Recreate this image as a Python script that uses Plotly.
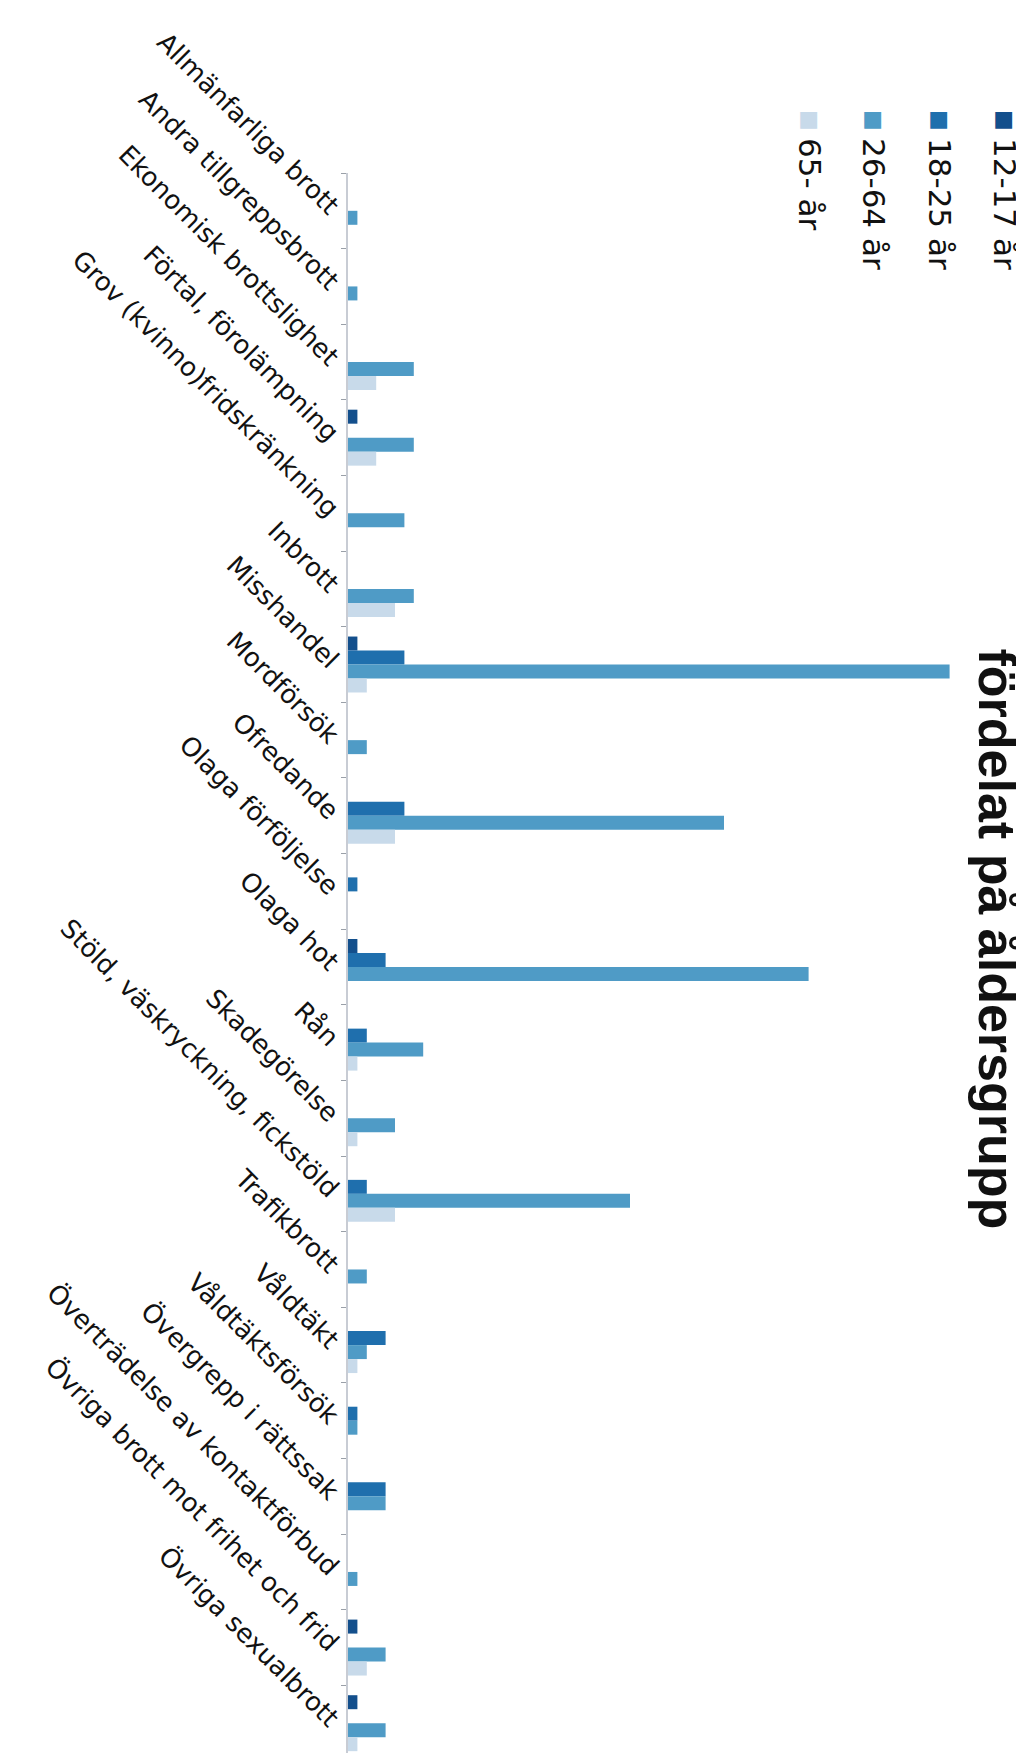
import plotly.graph_objects as go

categories = [
    "Allmänfarliga brott", "Andra tillgreppsbrott", "Ekonomisk brottslighet",
    "Förtal, förolämpning", "Grov (kvinno)fridskränkning", "Inbrott",
    "Misshandel", "Mordförsök", "Ofredande", "Olaga förföljelse", "Olaga hot",
    "Rån", "Skadegörelse", "Stöld, väskryckning, fickstöld", "Trafikbrott",
    "Våldtäkt", "Våldtäktsförsök", "Övergrepp i rättssak",
    "Överträdelse av kontaktförbud", "Övriga brott mot frihet och frid",
    "Övriga sexualbrott",
]
series_names = ["12-17 år", "18-25 år", "26-64 år", "65- år"]
age_12_17 = [0, 0, 0, 1, 0, 0, 1, 0, 0, 0, 1, 0, 0, 0, 0, 0, 0, 0, 0, 1, 1]
age_18_25 = [0, 0, 0, 0, 0, 0, 6, 0, 6, 1, 4, 2, 0, 2, 0, 4, 1, 4, 0, 0, 0]
age_26_64 = [1, 1, 7, 7, 6, 7, 64, 2, 40, 0, 49, 8, 5, 30, 2, 2, 1, 4, 1, 4, 4]
age_65 = [0, 0, 3, 3, 0, 5, 2, 0, 5, 0, 0, 1, 1, 5, 0, 1, 0, 0, 0, 2, 1]
title_text = "fördelat på åldersgrupp"

colors = ["#134f8c", "#1f6fad", "#4f9bc6", "#c8daea"]
series_values = [age_12_17, age_18_25, age_26_64, age_65]

W, H = 1024, 1753
ML, MR, MT, MB = 340, 26, 165, 0
PW, PH = W - ML - MR, H - MT - MB

def px(x):
    return (x - ML) / PW

def py(y):
    return 1 - (y - MT) / PH

fig = go.Figure()
for name, vals, col in zip(series_names, series_values, colors):
    fig.add_trace(go.Bar(
        y=categories, x=vals, name=name, orientation="h",
        marker=dict(color=col, line=dict(width=0)),
        showlegend=False,
    ))

annotations = []
# rotated legend
legend_x = [997, 932, 866, 802]
for name, col, lx in zip(series_names, colors, legend_x):
    annotations.append(dict(
        x=px(lx), y=py(112), xref="paper", yref="paper",
        text="■", showarrow=False, textangle=90,
        font=dict(family="DejaVu Sans", size=22, color=col),
        xanchor="center", yanchor="middle",
    ))
    annotations.append(dict(
        x=px(lx), y=py(128), xref="paper", yref="paper",
        text=name, showarrow=False, textangle=90,
        font=dict(family="DejaVu Sans", size=31, color="#111111"),
        xanchor="center", yanchor="top",
    ))
# rotated title (right edge)
annotations.append(dict(
    x=px(988), y=py(638), xref="paper", yref="paper",
    text="<b>" + title_text + "</b>", showarrow=False, textangle=90,
    font=dict(family="Liberation Sans", size=52, color="#111111"),
    xanchor="center", yanchor="top",
))

fig.update_layout(
    width=W, height=H,
    margin=dict(l=ML, r=MR, t=MT, b=MB, pad=0),
    paper_bgcolor="white", plot_bgcolor="white",
    barmode="group", bargap=0.26, bargroupgap=0,
    annotations=annotations,
    xaxis=dict(range=[0, 70], visible=False, showgrid=False, zeroline=False),
    yaxis=dict(
        type="category", range=[20.5, -0.5],
        showline=True, linecolor="#c8ccd4", linewidth=1.5,
        ticks="outside", tickson="boundaries", ticklen=5, tickcolor="#9aa0a8",
        tickangle=45, showgrid=False,
        tickfont=dict(family="DejaVu Sans", size=26, color="#111111"),
        ticklabelstandoff=4,
    ),
)

fig.write_html("out.html")
